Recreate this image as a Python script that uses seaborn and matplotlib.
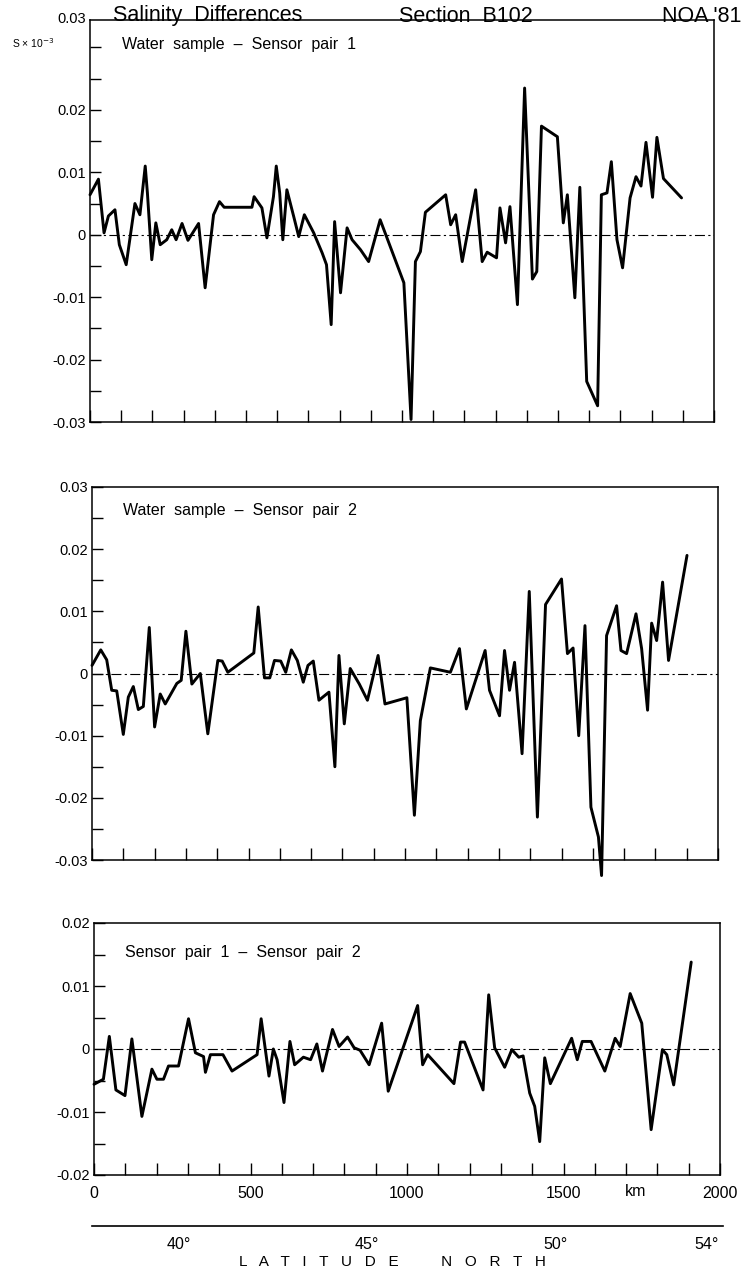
import matplotlib
matplotlib.use("Agg")
import matplotlib.pyplot as plt
import seaborn as sns
import pandas as pd

# ---------------- data ----------------
p1_km = [0, 27, 45, 59, 80, 94, 116, 144, 160, 177, 184, 198, 211, 225, 246, 262, 276, 295, 314, 348,
         369, 396, 415, 430, 519, 526, 551, 567, 588, 597, 608, 618, 631, 653, 669, 687, 717, 744, 758, 773,
         784, 803, 824, 840, 867, 893, 930, 1006, 1029, 1043, 1059, 1075, 1140, 1156, 1172, 1193, 1236, 1257,
         1273, 1303, 1314, 1332, 1346, 1370, 1393, 1418, 1432, 1447, 1498, 1517, 1530, 1554, 1570, 1592, 1627,
         1639, 1657, 1671, 1689, 1707, 1731, 1750, 1766, 1782, 1803, 1817, 1838, 1896]
p1_val = [0.0064, 0.0089, 0.0003, 0.0030, 0.0040, -0.0016, -0.0048, 0.0050, 0.0032, 0.0110,
          0.0067, -0.0040, 0.0019, -0.0016, -0.0008, 0.0008, -0.0008, 0.0018, -0.0009, 0.0018,
          -0.0085, 0.0032, 0.0053, 0.0044, 0.0044, 0.0061, 0.0043, -0.0005, 0.0061, 0.0110,
          0.0067, -0.0008, 0.0072, 0.0029, -0.0003, 0.0032, 0.0003, -0.0029, -0.0048, -0.0144,
          0.0021, -0.0093, 0.0011, -0.0008, -0.0024, -0.0043, 0.0024, -0.0077, -0.0296, -0.0043,
          -0.0027, 0.0036, 0.0064, 0.0016, 0.0032, -0.0043, 0.0072, -0.0043, -0.0028, -0.0037,
          0.0043, -0.0013, 0.0045, -0.0112, 0.0235, -0.0071, -0.0059, 0.0174, 0.0157, 0.0019,
          0.0064, -0.0101, 0.0076, -0.0235, -0.0274, 0.0064, 0.0067, 0.0117, -0.0008, -0.0053,
          0.0059, 0.0093, 0.0078, 0.0148, 0.0060, 0.0156, 0.0090, 0.0059]

p2_km = [0, 28, 47, 63, 79, 100, 116, 132, 148, 164, 183, 200, 218, 234, 271, 285, 300, 319, 346, 370,
         402, 416, 434, 517, 531, 551, 568, 583, 603, 619, 637, 656, 675, 690, 707, 725, 757, 776, 789, 806,
         825, 854, 880, 914, 936, 1006, 1030, 1049, 1081, 1145, 1174, 1196, 1256, 1270, 1302, 1318, 1334,
         1350, 1374, 1397, 1423, 1449, 1500, 1519, 1537, 1555, 1575, 1594, 1618, 1628, 1644, 1676, 1690,
         1708, 1738, 1756, 1775, 1788, 1804, 1823, 1842, 1901]
p2_val = [0.0013, 0.0038, 0.0022, -0.0027, -0.0028, -0.0098, -0.0038, -0.0021, -0.0058, -0.0053,
          0.0074, -0.0086, -0.0033, -0.0049, -0.0016, -0.0011, 0.0068, -0.0017, 0.0000, -0.0097,
          0.0021, 0.0020, 0.0002, 0.0033, 0.0107, -0.0007, -0.0007, 0.0021, 0.0020, 0.0002,
          0.0038, 0.0021, -0.0014, 0.0013, 0.0020, -0.0043, -0.0030, -0.0150, 0.0029, -0.0081,
          0.0008, -0.0017, -0.0043, 0.0029, -0.0049, -0.0039, -0.0228, -0.0076, 0.0009, 0.0002,
          0.0040, -0.0057, 0.0037, -0.0027, -0.0068, 0.0037, -0.0027, 0.0018, -0.0129, 0.0132,
          -0.0231, 0.0111, 0.0152, 0.0032, 0.0041, -0.0100, 0.0077, -0.0215, -0.0263, -0.0325,
          0.0061, 0.0109, 0.0037, 0.0032, 0.0096, 0.0040, -0.0059, 0.0081, 0.0053, 0.0147,
          0.0021, 0.0190]

p3_km = [0, 30, 49, 70, 99, 121, 153, 185, 201, 222, 238, 270, 302, 324, 350, 356, 372, 412, 441, 521,
         534, 559, 573, 585, 607, 626, 641, 669, 692, 712, 730, 762, 783, 810, 831, 850, 879, 919, 940,
         1034, 1050, 1066, 1150, 1171, 1184, 1243, 1261, 1280, 1312, 1335, 1357, 1371, 1392, 1408, 1424,
         1440, 1458, 1526, 1544, 1560, 1588, 1632, 1665, 1681, 1713, 1750, 1780, 1816, 1830, 1852, 1908]
p3_val = [-0.0056, -0.0048, 0.0020, -0.0065, -0.0074, 0.0016, -0.0107, -0.0032, -0.0048, -0.0048,
          -0.0027, -0.0027, 0.0048, -0.0006, -0.0012, -0.0037, -0.0009, -0.0009, -0.0035, -0.0009,
          0.0048, -0.0043, 0.0000, -0.0017, -0.0085, 0.0012, -0.0025, -0.0013, -0.0017, 0.0008,
          -0.0035, 0.0031, 0.0004, 0.0019, 0.0002, -0.0002, -0.0025, 0.0041, -0.0067,
          0.0069, -0.0025, -0.0009, -0.0055, 0.0011, 0.0011, -0.0065, 0.0086, 0.0002, -0.0029,
          -0.0001, -0.0013, -0.0011, -0.0070, -0.0091, -0.0147, -0.0014, -0.0055, 0.0017, -0.0017,
          0.0012, 0.0012, -0.0035, 0.0017, 0.0004, 0.0088, 0.0041, -0.0128, -0.0001, -0.0009,
          -0.0057, 0.0138]

panel_titles = ["Water  sample  \u2013  Sensor  pair  1",
                "Water  sample  \u2013  Sensor  pair  2",
                "Sensor  pair  1  \u2013  Sensor  pair  2"]
yticks_a = [-0.03, -0.02, -0.01, 0, 0.01, 0.02]
ylabels_a = ["-0.03", "-0.02", "-0.01", "0", "0.01", "0.02"]
yticks_b = [-0.03, -0.02, -0.01, 0, 0.01, 0.02, 0.03]
ylabels_b = ["-0.03", "-0.02", "-0.01", "0", "0.01", "0.02", "0.03"]
yticks_c = [-0.02, -0.01, 0, 0.01, 0.02]
ylabels_c = ["-0.02", "-0.01", "0", "0.01", "0.02"]
km_labels = ["0", "500", "1000", "1500", "2000"]
lat_ticks = list(range(38, 55))
lat_labels = {40: "40\u00b0", 45: "45\u00b0", 50: "50\u00b0", 54: "54\u00b0"}

# ---------------- style ----------------
sns.set_theme(style="white", rc={"text.color": "black", "xtick.color": "black",
                                 "ytick.color": "black", "axes.edgecolor": "black",
                                 "axes.labelcolor": "black"})
plt.rcParams["font.family"] = ["Liberation Sans", "DejaVu Sans"]

W, H = 750, 1277
fig = plt.figure(figsize=(W / 100, H / 100), dpi=100)

TICK_FS = 10.5


def ax_at(l, r, t, b):
    return fig.add_axes([l / W, 1 - b / H, (r - l) / W, (b - t) / H])


def style_panel(ax, km, val, ylim, yt, yl, minor, show_x):
    ax.axhline(0, color="black", lw=0.8, ls=(0, (9, 3, 2, 3)), zorder=1)
    df = pd.DataFrame({"km": km, "val": val})
    sns.lineplot(data=df, x="km", y="val", ax=ax, color="black", lw=2.1,
                 sort=False, estimator=None, clip_on=False, zorder=3)
    ax.set_xlim(0, 2000)
    ax.set_ylim(*ylim)
    ax.set_xticks(list(range(0, 2001, 100)))
    if show_x:
        ax.set_xticklabels([km_labels[i // 500] if i % 500 == 0 else "" for i in range(0, 2001, 100)],
                           fontsize=11.5)
    else:
        ax.set_xticklabels([])
    ax.set_yticks(yt)
    ax.set_yticklabels(yl, fontsize=TICK_FS)
    ax.set_yticks(minor, minor=True)
    ax.tick_params(axis="x", which="major", direction="in", length=9, width=1.0,
                   bottom=True, top=False, pad=8)
    ax.tick_params(axis="y", which="both", direction="in", length=8, width=1.0,
                   left=True, right=False, pad=3)
    for s in ax.spines.values():
        s.set_linewidth(1.1)
        s.set_color("black")
    ax.set_xlabel("")
    ax.set_ylabel("")
    ax.grid(False)


minor_a = [-0.025, -0.015, -0.005, 0.005, 0.015, 0.025, 0.03]
minor_b = [-0.025, -0.015, -0.005, 0.005, 0.015, 0.025]
minor_c = [-0.015, -0.005, 0.005, 0.015]

ax1 = ax_at(90, 714, 20, 422)
style_panel(ax1, p1_km, p1_val, (-0.03, 0.0344), yticks_a, ylabels_a, minor_a, False)
ax2 = ax_at(92, 718, 487, 860)
style_panel(ax2, p2_km, p2_val, (-0.03, 0.03), yticks_b, ylabels_b, minor_b, False)
ax3 = ax_at(94, 720, 923, 1175)
style_panel(ax3, p3_km, p3_val, (-0.02, 0.02), yticks_c, ylabels_c, minor_c, True)


def ftext(x, y, s, **kw):
    fig.text(x / W, 1 - y / H, s, **kw)


# panel labels
ftext(122, 44, panel_titles[0], fontsize=11.5, va="center", ha="left")
ftext(123, 510, panel_titles[1], fontsize=11.5, va="center", ha="left")
ftext(125, 952, panel_titles[2], fontsize=11.5, va="center", ha="left")

# top-left labels of panel 1
ftext(86, 19, "0.03", fontsize=TICK_FS, va="center", ha="right")
ftext(33, 43, "S \u00d7 10$^{-3}$", fontsize=7.5, va="center", ha="center")

# title
ftext(113, 16, "Salinity  Differences", fontsize=15.5, va="center", ha="left")
ftext(466, 16, "Section  B102", fontsize=15.5, va="center", ha="center")
ftext(741, 16, "NOA '81", fontsize=15.5, va="center", ha="right")

# km unit
ftext(636, 1192, "km", fontsize=11.5, va="center", ha="center")

# latitude axis
lat_l, lat_r = 92, 723
deg_per_px = 16 / (707 - 103)
axl = fig.add_axes([lat_l / W, 1 - 1226 / H, (lat_r - lat_l) / W, 0.0005])
axl.set_xlim(38 - (103 - lat_l) * deg_per_px, 54 + (lat_r - 707) * deg_per_px)
axl.set_ylim(0, 1)
axl.set_xticks(lat_ticks)
axl.set_xticklabels([lat_labels.get(t, "") for t in lat_ticks], fontsize=11.5)
axl.set_yticks([])
axl.tick_params(axis="x", direction="in", length=11, width=1.0, pad=8)
for k, s in axl.spines.items():
    s.set_visible(k == "bottom")
axl.spines["bottom"].set_linewidth(1.2)
axl.patch.set_alpha(0)

ftext(392, 1262, "L   A   T   I   T   U   D   E          N   O   R   T   H", fontsize=11,
      va="center", ha="center")

fig.savefig("out.png", dpi=100)
